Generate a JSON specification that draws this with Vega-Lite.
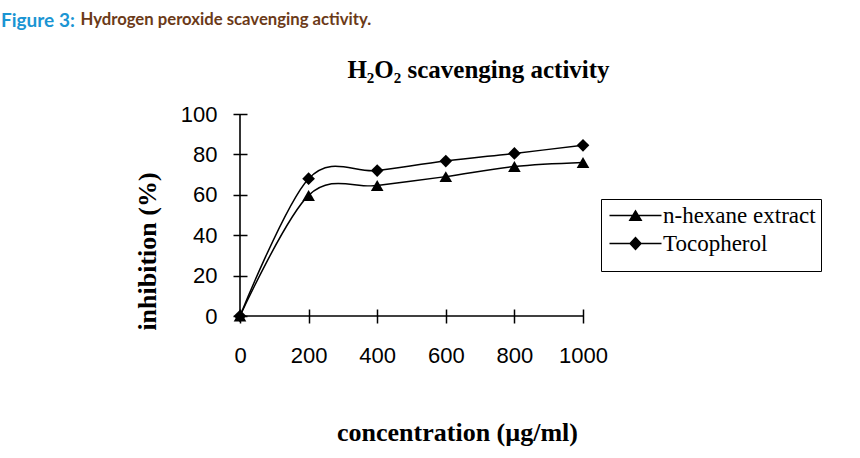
{
  "$schema": "https://vega.github.io/schema/vega-lite/v6.json",
  "width": 343,
  "height": 202,
  "autosize": "none",
  "padding": {"left": 240, "top": 114, "right": 277, "bottom": 142},
  "background": "white",
  "title": {
    "text": "Figure 3:",
    "anchor": "start",
    "frame": "group",
    "dx": -239,
    "dy": 35,
    "offset": 0,
    "baseline": "alphabetic",
    "font": "Lato",
    "fontSize": 19,
    "fontWeight": "bold",
    "color": "#1b95d3"
  },
  "data": {
    "values": [
      {"series": "n-hexane extract", "concentration": 0, "inhibition": 0},
      {"series": "n-hexane extract", "concentration": 200, "inhibition": 59.7},
      {"series": "n-hexane extract", "concentration": 400, "inhibition": 64.6},
      {"series": "n-hexane extract", "concentration": 600, "inhibition": 69},
      {"series": "n-hexane extract", "concentration": 800, "inhibition": 74},
      {"series": "n-hexane extract", "concentration": 1000, "inhibition": 76},
      {"series": "Tocopherol", "concentration": 0, "inhibition": 0},
      {"series": "Tocopherol", "concentration": 200, "inhibition": 68},
      {"series": "Tocopherol", "concentration": 400, "inhibition": 72},
      {"series": "Tocopherol", "concentration": 600, "inhibition": 76.7},
      {"series": "Tocopherol", "concentration": 800, "inhibition": 80.5},
      {"series": "Tocopherol", "concentration": 1000, "inhibition": 84.5}
    ]
  },
  "layer": [
    {
      "data": {"values": [{}]},
      "mark": {"type": "rule", "color": "black", "strokeWidth": 1.6},
      "encoding": {
        "x": {"datum": 0, "type": "quantitative", "axis": null},
        "x2": {"datum": 1000},
        "y": {"datum": 0, "type": "quantitative", "axis": null}
      }
    },
    {
      "data": {"values": [{}]},
      "mark": {"type": "rule", "color": "black", "strokeWidth": 1.6},
      "encoding": {
        "x": {"datum": 0, "type": "quantitative", "axis": null},
        "y": {"datum": 0, "type": "quantitative", "axis": null},
        "y2": {"datum": 100}
      }
    },
    {
      "mark": {"type": "line", "interpolate": "cardinal", "color": "black", "strokeWidth": 1.5},
      "encoding": {
        "x": {
          "field": "concentration", "type": "quantitative",
          "scale": {"domain": [0, 1000], "nice": false},
          "axis": {
            "orient": "bottom", "offset": -7, "values": [0, 200, 400, 600, 800, 1000], "format": "d",
            "tickSize": 14, "tickWidth": 1.5, "tickColor": "black", "domain": false, "grid": false,
            "labelFont": "Liberation Sans", "labelFontSize": 22, "labelColor": "black",
            "labelPadding": 22, "labelFlush": false, "labelOverlap": false,
            "title": "concentration (µg/ml)", "titleX": 217, "titleY": 131,
            "titleAlign": "center", "titleBaseline": "alphabetic", "titleAnchor": null,
            "titleFont": "Liberation Serif", "titleFontSize": 26, "titleFontWeight": "bold", "titleColor": "black"
          }
        },
        "y": {
          "field": "inhibition", "type": "quantitative",
          "scale": {"domain": [0, 100], "nice": false},
          "axis": {
            "orient": "left", "offset": -7, "values": [0, 20, 40, 60, 80, 100], "format": "d",
            "tickSize": 14, "tickWidth": 1.5, "tickColor": "black", "domain": false, "grid": false,
            "labelFont": "Liberation Sans", "labelFontSize": 22, "labelColor": "black",
            "labelPadding": 16, "labelFlush": false, "labelOverlap": false,
            "title": "inhibition (%)", "titleX": -92, "titleY": 137, "titleAngle": -90,
            "titleAlign": "center", "titleBaseline": "alphabetic", "titleAnchor": null,
            "titleFont": "Liberation Serif", "titleFontSize": 26, "titleFontWeight": "bold", "titleColor": "black"
          }
        },
        "detail": {"field": "series", "type": "nominal"}
      }
    },
    {
      "mark": {"type": "point", "filled": true, "color": "black", "opacity": 1, "size": 160},
      "encoding": {
        "x": {
          "field": "concentration", "type": "quantitative",
          "scale": {"domain": [0, 1000], "nice": false},
          "axis": {
            "orient": "top", "domain": false, "ticks": false, "labels": false, "grid": false,
            "title": "H₂O₂ scavenging activity", "titleX": 238, "titleY": -37, "titleAngle": 0,
            "titleAlign": "center", "titleBaseline": "alphabetic", "titleAnchor": null,
            "titleFont": "Liberation Serif", "titleFontSize": 25, "titleFontWeight": "bold", "titleColor": "black"
          }
        },
        "y": {
          "field": "inhibition", "type": "quantitative",
          "scale": {"domain": [0, 100], "nice": false},
          "axis": {
            "orient": "right", "domain": false, "ticks": false, "labels": false, "grid": false,
            "title": "Hydrogen peroxide scavenging activity.", "titleX": -503, "titleY": -90, "titleAngle": 0,
            "titleAlign": "left", "titleBaseline": "alphabetic", "titleAnchor": null,
            "titleFont": "Lato", "titleFontSize": 16.7, "titleFontWeight": "bold", "titleColor": "#6b3a18"
          }
        },
        "shape": {
          "field": "series", "type": "nominal",
          "scale": {"domain": ["n-hexane extract", "Tocopherol"], "range": ["triangle-up", "diamond"]},
          "legend": null
        }
      }
    },
    {
      "mark": {"type": "point", "filled": true, "color": "black", "opacity": 0, "size": 400},
      "encoding": {
        "x": {"field": "concentration", "type": "quantitative", "axis": null},
        "y": {"field": "inhibition", "type": "quantitative", "axis": null},
        "shape": {
          "field": "series", "type": "nominal",
          "scale": {
            "domain": ["n-hexane extract", "Tocopherol"],
            "range": ["M-0.8,-0.08H4.4V0.08H-0.8ZM1.8,-0.6L2.5,0.55L1.1,0.55Z", "M-0.8,-0.08H4.4V0.08H-0.8ZM1.8,-0.7L2.45,0L1.8,0.7L1.15,0Z"]
          },
          "legend": {
            "orient": "none", "legendX": 361, "legendY": 85,
            "title": "\u00a0", "titleOrient": "bottom", "titleFontSize": 9, "titlePadding": 1,
            "padding": 5, "strokeColor": "black", "fillColor": "white", "cornerRadius": 0,
            "symbolSize": 400, "symbolOpacity": 1, "symbolFillColor": "black", "symbolStrokeColor": "black",
            "labelFont": "Liberation Serif", "labelFontSize": 23, "labelColor": "black", "labelOffset": 34,
            "rowPadding": 4, "labelLimit": 300,
            "encode": {
              "legend": {"strokeWidth": {"value": 1.5}},
              "symbols": {
                "stroke": {"value": "black"},
                "strokeWidth": {"value": 1.5},
                "fill": {"value": "black"},
                "opacity": {"value": 1}
              }
            }
          }
        }
      }
    }
  ],
  "resolve": {
    "axis": {"x": "independent", "y": "independent"},
    "scale": {"shape": "independent"}
  },
  "config": {"view": {"stroke": null}}
}
